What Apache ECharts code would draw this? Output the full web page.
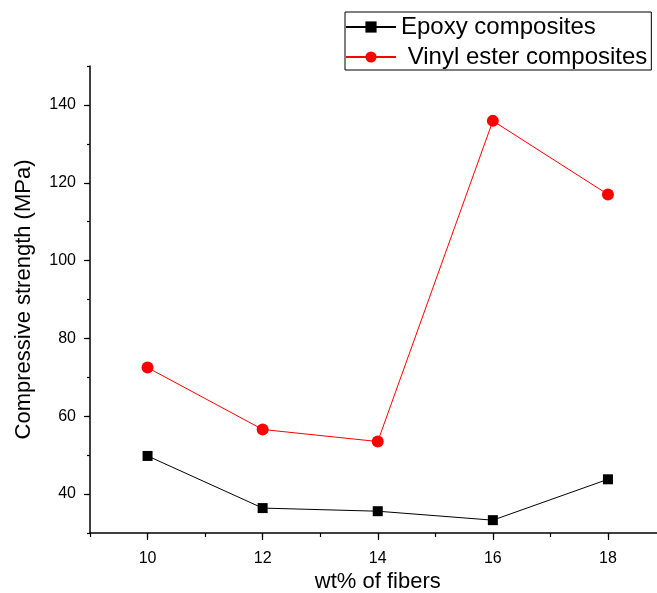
<!DOCTYPE html>
<html><head><meta charset="utf-8">
<script src="https://cdn.jsdelivr.net/npm/echarts@6/dist/echarts.min.js"></script>
<style>html,body{margin:0;padding:0;background:#fff}#c{width:657px;height:593px}</style>
</head><body><div id="c"></div>
<script>
var xValues = [10, 12, 14, 16, 18];
var epoxy = [49.8, 36.4, 35.6, 33.3, 43.8];
var vinyl = [72.5, 56.6, 53.5, 135.9, 117.0];
var seriesNames = ['Epoxy composites', 'Vinyl ester composites'];
var xTickValues = [9, 10, 11, 12, 13, 14, 15, 16, 17, 18, 19];
var yTickValues = [30, 40, 50, 60, 70, 80, 90, 100, 110, 120, 130, 140, 150];
var xTitle = 'wt% of fibers';
var yTitle = 'Compressive strength (MPa)';

function pairs(v){ return xValues.map(function(x,i){ return [x, v[i]]; }); }
function xMajor(i, v){ return Number(v) % 2 === 0; }
function yMajor(i, v){ var n = Number(v); return n % 20 === 0 && n >= 40 && n <= 140; }
var font = 'Liberation Sans, Arial, sans-serif';
var axisLineStyle = { color: '#000', width: 1.5 };
var chart = echarts.init(document.getElementById('c'));
chart.setOption({
  animation: false,
  backgroundColor: '#fff',
  grid: { left: 90, top: 66, right: -8.5, bottom: 60, containLabel: false, outerBoundsMode: 'none' },
  legend: {
    orient: 'vertical', left: 345, top: 12,
    itemWidth: 50, itemHeight: 14, itemGap: 6,
    padding: [3, 4, 1, 0],
    borderColor: '#000', borderWidth: 1, borderRadius: 0,
    textStyle: { fontFamily: font, fontSize: 24, color: '#000' },
    formatter: function(n){ return n === seriesNames[1] ? ' ' + n : n; },
    data: seriesNames
  },
  xAxis: [{
    type: 'value', min: 9, max: 19, interval: 1, position: 'bottom',
    name: xTitle, nameLocation: 'middle', nameGap: 38,
    nameTextStyle: { fontFamily: font, fontSize: 22, color: '#000' },
    axisLine: { show: true, onZero: false, lineStyle: axisLineStyle },
    axisTick: { show: true, inside: false, length: 4, lineStyle: { color: '#000', width: 1.2 } },
    axisLabel: { show: false },
    splitLine: { show: false }
  }, {
    type: 'category', data: xTickValues.map(String), boundaryGap: false, position: 'bottom', offset: 0,
    axisLine: { show: false },
    axisTick: { show: true, inside: false, length: 7, interval: xMajor, lineStyle: { color: '#000', width: 1.2 } },
    axisLabel: { interval: xMajor, fontFamily: font, fontSize: 16, color: '#000', margin: 18 },
    splitLine: { show: false }
  }],
  yAxis: [{
    type: 'value', min: 30, max: 150, interval: 10, position: 'left',
    name: yTitle, nameLocation: 'middle', nameGap: 55,
    nameTextStyle: { fontFamily: font, fontSize: 22, color: '#000' },
    axisLine: { show: true, onZero: false, lineStyle: axisLineStyle },
    axisTick: { show: true, inside: false, length: 3, lineStyle: { color: '#000', width: 1.2 } },
    axisLabel: { show: false },
    splitLine: { show: false }
  }, {
    type: 'category', data: yTickValues.map(String), boundaryGap: false, position: 'left', offset: 0,
    axisLine: { show: false },
    axisTick: { show: true, inside: false, length: 6, interval: yMajor, lineStyle: { color: '#000', width: 1.2 } },
    axisLabel: { interval: yMajor, fontFamily: font, fontSize: 16, color: '#000', margin: 14 },
    splitLine: { show: false }
  }],
  series: [
    { name: seriesNames[0], type: 'line', data: pairs(epoxy), xAxisIndex: 0, yAxisIndex: 0,
      symbol: 'rect', symbolSize: 10,
      lineStyle: { color: '#000', width: 1 }, itemStyle: { color: '#000' } },
    { name: seriesNames[1], type: 'line', data: pairs(vinyl), xAxisIndex: 0, yAxisIndex: 0,
      symbol: 'circle', symbolSize: 12,
      lineStyle: { color: '#ff0000', width: 1 }, itemStyle: { color: '#ff0000' } }
  ]
});
</script></body></html>
